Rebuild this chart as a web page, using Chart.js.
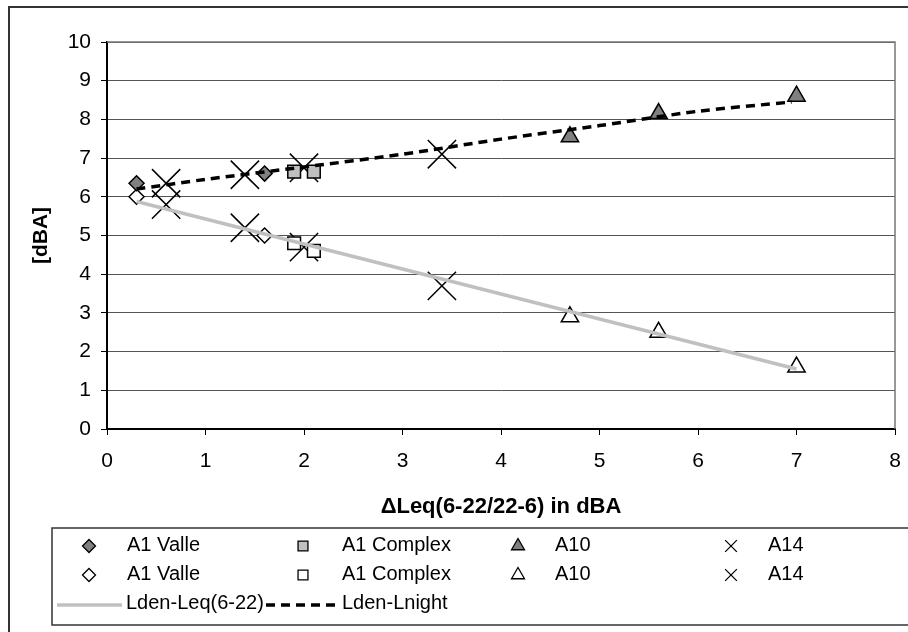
<!DOCTYPE html>
<html>
<head>
<meta charset="utf-8">
<script src="https://cdn.jsdelivr.net/npm/chart.js@4/dist/chart.umd.min.js"></script>
<style>
  html, body { margin: 0; padding: 0; background: #fff; }
  canvas { display: block; }
</style>
</head>
<body>
<canvas id="chart" width="908" height="632"></canvas>
<script>
// measured points (upper = Lden-Lnight, lower = Lden-Leq(6-22))
const valleX = [0.3, 1.6];
const valleHigh = [6.35, 6.6];
const valleLow = [6.0, 5.0];

const complexX = [1.9, 2.1];
const complexHigh = [6.65, 6.65];
const complexLow = [4.8, 4.6];

const a10X = [4.7, 5.6, 7.0];
const a10High = [7.55, 8.15, 8.6];
const a10Low = [2.9, 2.5, 1.6];

const a14X = [0.6, 1.4, 2.0, 3.4];
const a14High = [6.35, 6.57, 6.75, 7.1];
const a14Low = [5.8, 5.2, 4.7, 3.7];

// trend lines
const leqTrendX = [0.3, 7.0];
const leqTrendY = [5.88, 1.55];
const nightTrendX = [0.3, 1, 2, 3, 4, 5, 6, 6.95];
const nightTrendY = [6.2, 6.45, 6.77, 7.1, 7.49, 7.84, 8.21, 8.45];

const xTitle = '\u0394Leq(6-22/22-6) in dBA';
const yTitle = '[dBA]';

function pts(xs, ys) {
    return xs.map((x, i) => ({ x: x, y: ys[i] }));
}

function markerSet(label, xs, ys, style, fill, radius) {
    return {
        label: label,
        data: pts(xs, ys),
        showLine: false,
        pointStyle: style,
        pointRadius: radius,
        pointBackgroundColor: fill,
        pointBorderColor: '#000',
        pointBorderWidth: 1.5,
        order: 1
    };
}

Chart.defaults.font.family = '"Liberation Sans", Arial, sans-serif';
Chart.defaults.color = '#000';

// legend box drawn under the plot, Excel style
const legendPlugin = {
    id: 'boxLegend',
    afterDraw(chart) {
        const ctx = chart.ctx;
        const ds = chart.data.datasets;
        ctx.save();
        ctx.strokeStyle = '#333';
        ctx.lineWidth = 1.5;
        ctx.strokeRect(52, 528, 860, 97);

        const markerX = [89, 303, 518, 731];
        const textX = [127, 342, 555, 768];
        const rowY = [545, 574, 603];
        const small = { rectRot: 6.5, rect: 7, triangle: 7.5, crossRot: 8.3 };

        ctx.font = '20px "Liberation Sans", Arial, sans-serif';
        ctx.textBaseline = 'middle';
        ctx.fillStyle = '#000';
        for (let i = 0; i < 8; i++) {
            const d = ds[i];
            const col = Math.floor(i / 2), row = i % 2;
            ctx.fillStyle = d.pointBackgroundColor;
            ctx.strokeStyle = '#000';
            ctx.lineWidth = 1.3;
            Chart.helpers.drawPoint(ctx, {
                pointStyle: d.pointStyle,
                radius: small[d.pointStyle],
                rotation: 0,
                borderWidth: 1.3
            }, markerX[col], rowY[row] + 1);
            ctx.fillStyle = '#000';
            ctx.fillText(d.label, textX[col], rowY[row]);
        }

        // line samples
        ctx.strokeStyle = ds[8].borderColor;
        ctx.lineWidth = 3.5;
        ctx.beginPath();
        ctx.moveTo(57, rowY[2] + 2);
        ctx.lineTo(122, rowY[2] + 2);
        ctx.stroke();
        ctx.fillText(ds[8].label, 126, rowY[2]);

        ctx.strokeStyle = ds[9].borderColor;
        ctx.setLineDash(ds[9].borderDash);
        ctx.beginPath();
        ctx.moveTo(266, rowY[2] + 2);
        ctx.lineTo(337, rowY[2] + 2);
        ctx.stroke();
        ctx.setLineDash([]);
        ctx.fillText(ds[9].label, 342, rowY[2]);
        ctx.restore();
    }
};

// outer frame + gray plot-area border
const framePlugin = {
    id: 'frame',
    beforeDatasetsDraw(chart) {
        const { ctx, chartArea: a } = chart;
        ctx.save();
        ctx.strokeStyle = '#777';
        ctx.lineWidth = 1.5;
        ctx.beginPath();
        ctx.moveTo(a.left, a.top);
        ctx.lineTo(a.right, a.top);
        ctx.lineTo(a.right, a.bottom);
        ctx.stroke();
        ctx.restore();
    },
    afterDraw(chart) {
        const ctx = chart.ctx;
        ctx.save();
        ctx.strokeStyle = '#333';
        ctx.lineWidth = 2;
        ctx.strokeRect(9, 7, 920, 640);
        ctx.restore();
    }
};

new Chart(document.getElementById('chart'), {
    type: 'scatter',
    data: {
        datasets: [
            markerSet('A1 Valle', valleX, valleHigh, 'rectRot', '#808080', 7.5),
            markerSet('A1 Valle', valleX, valleLow, 'rectRot', '#fff', 7.5),
            markerSet('A1 Complex', complexX, complexHigh, 'rect', '#c0c0c0', 9),
            markerSet('A1 Complex', complexX, complexLow, 'rect', '#fff', 9),
            markerSet('A10', a10X, a10High, 'triangle', '#808080', 10),
            markerSet('A10', a10X, a10Low, 'triangle', '#fff', 10),
            markerSet('A14', a14X, a14High, 'crossRot', '#000', 20),
            markerSet('A14', a14X, a14Low, 'crossRot', '#000', 20),
            {
                label: 'Lden-Leq(6-22)',
                data: pts(leqTrendX, leqTrendY),
                showLine: true,
                borderColor: '#c0c0c0',
                borderWidth: 3.5,
                pointRadius: 0,
                order: 0
            },
            {
                label: 'Lden-Lnight',
                data: pts(nightTrendX, nightTrendY),
                showLine: true,
                borderColor: '#000',
                borderWidth: 3.5,
                borderDash: [9, 6],
                tension: 0.3,
                pointRadius: 0,
                order: 0
            }
        ]
    },
    options: {
        responsive: false,
        animation: false,
        layout: { autoPadding: false, padding: { left: 0, top: 42, right: 13, bottom: 103 } },
        plugins: {
            legend: { display: false },
            tooltip: { enabled: false }
        },
        scales: {
            x: {
                min: 0, max: 8,
                afterFit: s => { s.height = 100; s.paddingRight = 0; s.paddingLeft = 0; },
                ticks: { stepSize: 1, padding: 14, font: { size: 21 } },
                grid: { drawOnChartArea: false, tickLength: 6, color: '#000' },
                border: { color: '#000', width: 2 },
                title: { display: true, text: xTitle, font: { size: 22, weight: 'bold' }, padding: { bottom: 9 } }
            },
            y: {
                min: 0, max: 10,
                afterFit: s => { s.width = 107; },
                ticks: { stepSize: 1, padding: 10, font: { size: 21 } },
                grid: { color: '#555', tickColor: '#000', tickLength: 6, lineWidth: 1 },
                border: { color: '#000', width: 2 },
                title: { display: true, text: yTitle, font: { size: 21, weight: 'bold' }, padding: { top: 29 } }
            }
        }
    },
    plugins: [legendPlugin, framePlugin]
});
</script>
</body>
</html>
